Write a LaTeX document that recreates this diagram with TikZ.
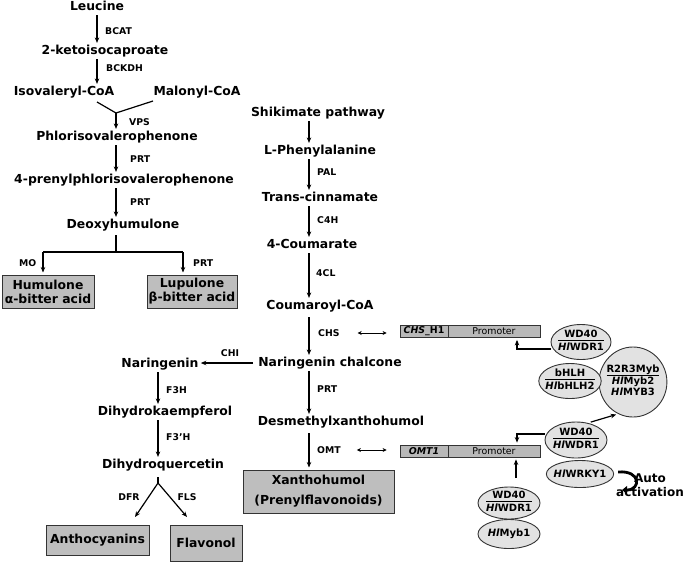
\documentclass[tikz,border=0pt]{standalone}
\usepackage{fontspec}
\setmainfont{DejaVu Sans}
\usetikzlibrary{arrows.meta,shapes.geometric,calc}
\definecolor{boxgray}{HTML}{BEBEBE}
\definecolor{bargray}{HTML}{B8B8B8}
\definecolor{ellgray}{HTML}{E2E2E2}
\definecolor{edgec}{HTML}{333333}
\newcommand\ellfrac[2]{\begin{tabular}{@{}c@{}}#1\\[-1pt]\hline\rule{0pt}{9.8pt}#2\end{tabular}}
\newcommand\Hl{\textit{Hl}}
\begin{document}
\begin{tikzpicture}[x=1pt,y=-1pt,
  lbl/.style={font=\fontsize{12.4}{14}\selectfont\bfseries, inner sep=0pt, text height=9.2pt, text depth=2.6pt},
  enz/.style={font=\fontsize{9.3}{10}\selectfont\bfseries, inner sep=0pt, anchor=west},
  arr/.style={-{Stealth[length=5.5pt,width=4.5pt]}, line width=1.2pt, shorten >=2pt, shorten <=2pt},
  ln/.style={line width=1.2pt},
  gbox/.style={draw=edgec, fill=boxgray, line width=1pt, inner sep=0pt, align=center, font=\fontsize{12.4}{14}\selectfont\bfseries},
  bar/.style={draw=edgec, fill=bargray, line width=0.8pt, inner sep=0pt, minimum height=12pt, font=\fontsize{9.4}{10}\selectfont},
  ell/.style={ellipse, draw=edgec, fill=ellgray, line width=0.9pt, inner sep=-2.5pt, font=\fontsize{10}{11}\selectfont\bfseries},
  dbl/.style={{Stealth[length=4pt,width=4pt]}-{Stealth[length=4pt,width=4pt]}, line width=0.9pt}
]
\useasboundingbox (0,0) rectangle (685,563);

% ---------- left column: bitter acids ----------
\node[lbl] (leu)  at (97,7)   {Leucine};
\node[lbl] (keto) at (105,51) {2-ketoisocaproate};
\node[lbl] (iso)  at (64,92)  {Isovaleryl-CoA};
\node[lbl] (mal)  at (197,92) {Malonyl-CoA};
\node[lbl] (phl)  at (117,137) {Phlorisovalerophenone};
\node[lbl] (pre)  at (124,180) {4-prenylphlorisovalerophenone};
\node[lbl] (deo)  at (123,225) {Deoxyhumulone};
\node[gbox, minimum width=92, minimum height=33] (hum) at (48,291.5) {Humulone\\α-bitter acid};
\node[gbox, minimum width=90, minimum height=33] (lup) at (192,291.5) {Lupulone\\β-bitter acid};

\node[enz] (bcat)  at (105,31) {BCAT};
\node[enz] (bckdh) at (106,68) {BCKDH};
\node[enz] (vps)   at (129,122) {VPS};
\node[enz] (prt1)  at (130,159) {PRT};
\node[enz] (prt2)  at (130,202) {PRT};
\node[enz] (mo)    at (19,263) {MO};
\node[enz] (prt3)  at (193,263) {PRT};

\draw[arr] (leu.south) -- (leu.south |- keto.north);
\draw[arr] (leu.south |- keto.south) -- (leu.south |- iso.north);
\coordinate (yl) at (97,102);
\coordinate (yr) at (153,101);
\coordinate (yj) at (116,113);
\draw[ln] (yl) -- (yj) -- (yr);
\draw[arr, shorten <=0pt] (yj) -- (yj |- phl.north);
\draw[arr] (yj |- phl.south) -- (yj |- pre.north);
\draw[arr] (yj |- pre.south) -- (yj |- deo.north);
\coordinate (bt) at (116,235);
\coordinate (bj) at (116,252);
\coordinate (bl) at (43,252);
\coordinate (br) at (183,252);
\draw[ln] (bt) -- (bj);
\draw[ln] (bl) -- (br);
\draw[arr, shorten <=0pt] (bl) -- (bl |- hum.north);
\draw[arr, shorten <=0pt] (br) -- (br |- lup.north);

% ---------- right column: phenylpropanoids ----------
\coordinate (rx) at (309,0);
\node[lbl] (shk) at (318,113) {Shikimate pathway};
\node[lbl] (phe) at (320,151) {L-Phenylalanine};
\node[lbl] (cin) at (320,198) {Trans-cinnamate};
\node[lbl] (cou) at (312,245) {4-Coumarate};
\node[lbl] (coa) at (320,306) {Coumaroyl-CoA};
\node[lbl] (nch) at (330,363) {Naringenin chalcone};
\node[lbl] (dmx) at (341,422) {Desmethylxanthohumol};
\node[gbox, minimum width=151, minimum height=43, font=\fontsize{12.4}{20}\selectfont\bfseries] (xan) at (318.5,491.5) {Xanthohumol\\(Prenylflavonoids)};

\node[enz] (pal) at (317,172) {PAL};
\node[enz] (c4h) at (317,220) {C4H};
\node[enz] (fcl) at (316,273) {4CL};
\node[enz] (chs) at (318,333) {CHS};
\node[enz] (prt4) at (317,389) {PRT};
\node[enz] (omt) at (317,450) {OMT};

\draw[arr] (shk.south -| rx) -- (phe.north -| rx);
\draw[arr] (phe.south -| rx) -- (cin.north -| rx);
\draw[arr] (cin.south -| rx) -- (cou.north -| rx);
\draw[arr] (cou.south -| rx) -- (coa.north -| rx);
\draw[arr, shorten <=5pt] (coa.south -| rx) -- (nch.north -| rx);
\draw[arr] (nch.south -| rx) -- (dmx.north -| rx);
\draw[arr, shorten <=5pt] (dmx.south -| rx) -- (xan.north -| rx);

% ---------- flavonoid branch ----------
\coordinate (xn) at (158,0);
\node[lbl] (nar) at (160,364) {Naringenin};
\node[lbl] (dhk) at (165,412) {Dihydrokaempferol};
\node[lbl] (dhq) at (163,465) {Dihydroquercetin};
\node[gbox, minimum width=103, minimum height=30] (anth) at (97.5,540) {Anthocyanins};
\node[gbox, minimum width=72, minimum height=36] (flav) at (206,543) {Flavonol};

\node[enz, anchor=center] (chi) at (230,353) {CHI};
\node[enz] (f3h) at (166,390) {F3H};
\node[enz] (f3ph) at (166,437) {F3’H};
\node[enz, anchor=center] (dfr) at (129,497) {DFR};
\node[enz, anchor=center] (fls) at (187,497) {FLS};

\draw[arr, shorten <=5pt] (nch.west) -- (nch.west -| nar.east);
\draw[arr] (nar.south -| xn) -- (dhk.north -| xn);
\draw[arr] (dhk.south -| xn) -- (dhq.north -| xn);
\coordinate (ft) at (158,477);
\coordinate (fj) at (158,483);
\coordinate (fa) at (135,517);
\coordinate (fb) at (187,517);
\draw[ln] (ft) -- (fj);
\draw[arr, shorten <=0pt, shorten >=0pt] (fj) -- (fa);
\draw[arr, shorten <=0pt, shorten >=0pt] (fj) -- (fb);

% ---------- promoters ----------
\node[bar, minimum width=48] (chsA) at (424,331.5) {\textbf{\textit{CHS}\_H1}};
\node[bar, minimum width=92] (chsB) at (494,331.5) {Promoter};
\node[bar, minimum width=48] (omtA) at (424,451) {\textbf{\textit{OMT1}}};
\node[bar, minimum width=92] (omtB) at (494,451) {Promoter};

\draw[dbl] ($(chs.east)+(18,0)$) -- ($(chs.east -| chsA.west)+(-13,0)$);
\draw[dbl] ($(omt.east)+(16,0)$) -- ($(omt.east -| omtA.west)+(-13,0)$);

% ---------- transcription factors ----------
\node[ell, minimum width=66, minimum height=70] (r2r3) at (633,382)
  {\begin{tabular}{@{}c@{}}R2R3Myb\\[-1pt]\hline\rule{0pt}{9.8pt}\Hl Myb2\\\Hl MYB3\end{tabular}};
\node[ell, minimum width=60, minimum height=35] (wd1) at (581,342) {\ellfrac{WD40}{\Hl WDR1}};
\node[ell, minimum width=62, minimum height=35] (bhlh) at (570,381) {\ellfrac{bHLH}{\Hl bHLH2}};
\node[ell, minimum width=62, minimum height=36] (wd2) at (576,440) {\ellfrac{WD40}{\Hl WDR1}};
\node[ell, minimum width=60, minimum height=27] (wrky) at (580,474) {\Hl WRKY1};
\node[ell, minimum width=62, minimum height=32] (wd3) at (509,503) {\ellfrac{WD40}{\Hl WDR1}};
\node[ell, minimum width=62, minimum height=29] (myb1) at (509,534) {\Hl Myb1};

\coordinate (c1) at (517,349);
\draw[arr, shorten <=0pt] (wd1.west |- c1) -- (c1) -- (c1 |- chsB.south);
\coordinate (c2) at (517,434);
\draw[arr, shorten <=0pt] (wd2.west |- c2) -- (c2) -- (c2 |- omtB.north);
\coordinate (c3) at (516,478);
\draw[arr, shorten <=0pt] (c3) -- (c3 |- omtB.south);
\draw[arr, shorten <=3pt] (wd2.55) -- (r2r3.245);

\draw[-{Triangle[length=5pt,width=8pt]}, line width=2.8pt]
  ($(wrky.east)+(4,-2)$) .. controls +(23,-2) and +(19,0) .. ($(wrky.east)+(8,16)$);
\node[font=\fontsize{12}{14}\selectfont\bfseries, align=center, inner sep=0pt] (auto) at (650,485) {Auto\\activation};
\end{tikzpicture}
\end{document}
